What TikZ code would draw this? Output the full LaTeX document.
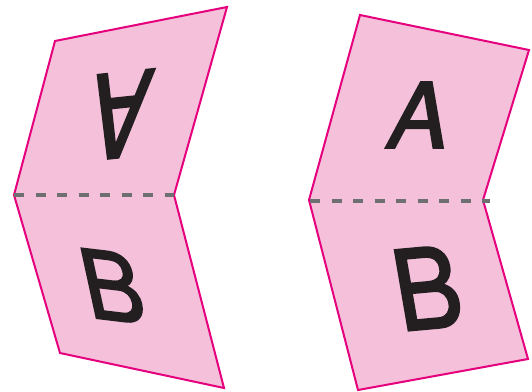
\documentclass[tikz,border=0pt]{standalone}
\usepackage{fontspec}
\newfontfamily\glyphfont[FakeBold=2.2]{TeX Gyre Heros}
\usepackage{tikz}
\usetikzlibrary{calc}
\definecolor{foldpink}{RGB}{245,192,218}
\definecolor{foldedge}{RGB}{229,0,125}
\definecolor{foldgray}{RGB}{110,111,113}
\definecolor{glyphink}{RGB}{35,31,32}

\begin{document}
\begin{tikzpicture}[x=1pt, y=-1pt,
  sheet/.style={draw=foldedge, fill=foldpink, line width=2pt, line join=miter},
  crease/.style={draw=foldgray, line width=4pt, dash pattern=on 10pt off 11.5pt},
  letter/.style={inner sep=0pt, text depth=0pt, text=glyphink,
                 font=\glyphfont\fontsize{90}{90}\selectfont}]
  \useasboundingbox (0,0) rectangle (532,391);

  % left sheet
  \coordinate (l1) at (55,41);
  \coordinate (l2) at (227,7);
  \coordinate (l3) at (174,195);
  \coordinate (l4) at (224,388);
  \coordinate (l5) at (60,353);
  \coordinate (l6) at (14,195);
  \draw[sheet] (l1) -- (l2) -- (l3) -- (l4) -- (l5) -- (l6) -- cycle;
  \draw[crease] (l6) -- (l3);
  \node[letter, cm={-0.9945,-0.1045,-0.194,-1.307,(0,0)}] (la) at (120,115) {A};
  \node[letter, cm={1,-0.12,-0.23,1.06,(0,0)}] (lb) at (112,286) {B};

  % right sheet
  \coordinate (r1) at (360,15);
  \coordinate (r2) at (529,50);
  \coordinate (r3) at (483,200);
  \coordinate (r4) at (528,359);
  \coordinate (r5) at (358,390);
  \coordinate (r6) at (309,200);
  \coordinate (re) at (490,201);
  \draw[sheet] (r1) -- (r2) -- (r3) -- (r4) -- (r5) -- (r6) -- cycle;
  \draw[crease] ($(r6)+(1,1)$) -- (re);
  \node[letter, cm={1,0,0.18,1,(0,0)}] (ra) at (420,115) {A};
  \node[letter, cm={1.1,0.1,-0.21,1.22,(0,0)}] (rb) at (427,288) {B};
\end{tikzpicture}
\end{document}
